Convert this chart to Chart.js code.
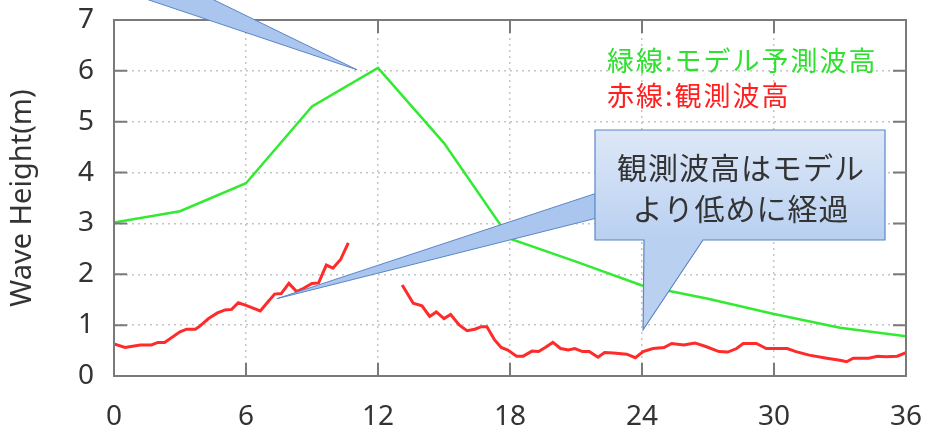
<!DOCTYPE html>
<html>
<head>
<meta charset="utf-8">
<script src="https://cdn.jsdelivr.net/npm/chart.js@4.4.1/dist/chart.umd.min.js"></script>
<style>
  html, body { margin: 0; padding: 0; background: #fff; }
  #wrap { position: relative; width: 929px; height: 430px; }
</style>
</head>
<body>
<div id="wrap"><canvas id="waveChart" width="929" height="430"></canvas></div>
<script>
// Wave height: model forecast (green) vs observed (red)

const modelHours   = [0, 3, 6, 9, 12, 15, 18, 21, 24, 27, 30, 33, 36];
const modelHeights = [3.02, 3.24, 3.79, 5.3, 6.06, 4.58, 2.7, 2.25, 1.78, 1.52, 1.22, 0.95, 0.78];

// observed record has a gap between ~10.7h and ~13h
const obsHours = [
    0, 0.5, 1.2, 1.7, 2.0, 2.3, 3.0, 3.3, 3.7, 3.9, 4.3, 4.7, 5.05, 5.35, 5.65, 6.0,
    6.65, 7.0, 7.3, 7.6, 7.95, 8.3, 8.6, 9.0, 9.3, 9.65, 9.95, 10.3, 10.65,
    12,
    13.1, 13.6, 14.0, 14.35, 14.65, 15.0, 15.3, 15.7, 16.05, 16.4, 16.7, 16.95, 17.3,
    17.6, 17.9, 18.3, 18.6, 19.0, 19.3, 19.6, 19.95, 20.3, 20.65, 20.95, 21.3, 21.6,
    22.0, 22.3, 22.7, 23.3, 23.7, 24.05, 24.5, 25.0, 25.35, 25.9, 26.4, 26.9, 27.5,
    27.9, 28.3, 28.6, 29.2, 29.65, 30.05, 30.6, 31.0, 31.6, 32.4, 33.0, 33.3, 33.6,
    34.3, 34.7, 35.1, 35.6, 36.0
];
const obsHeights = [
    0.63, 0.56, 0.61, 0.61, 0.66, 0.66, 0.87, 0.92, 0.92, 0.98, 1.13, 1.24, 1.30, 1.31, 1.44, 1.39,
    1.28, 1.46, 1.61, 1.62, 1.82, 1.66, 1.72, 1.82, 1.83, 2.18, 2.12, 2.29, 2.62,
    null,
    1.79, 1.43, 1.38, 1.17, 1.26, 1.13, 1.21, 1.0, 0.89, 0.92, 0.97, 0.97, 0.71,
    0.56, 0.51, 0.39, 0.39, 0.49, 0.48, 0.56, 0.66, 0.54, 0.51, 0.54, 0.48, 0.48,
    0.37, 0.46, 0.45, 0.43, 0.36, 0.48, 0.54, 0.56, 0.64, 0.61, 0.65, 0.58, 0.48,
    0.47, 0.54, 0.64, 0.64, 0.54, 0.54, 0.54, 0.48, 0.41, 0.35, 0.31, 0.28, 0.35,
    0.35, 0.39, 0.38, 0.39, 0.46
];

const xTicks = [0, 6, 12, 18, 24, 30, 36];
const yTicks = [0, 1, 2, 3, 4, 5, 6, 7];

const legendLines = [
    { text: '緑線:モデル予測波高', color: '#2fe02f' },
    { text: '赤線:観測波高', color: '#ff1f1f' }
];
const calloutLines = ['観測波高はモデル', 'より低めに経過'];

const GREEN = '#33ea33';
const RED = '#ff2a2a';
const CJK = "'Noto Sans CJK JP', 'Noto Sans', sans-serif";
const NUM = "'Noto Sans', 'DejaVu Sans', sans-serif";

function toPoints(xs, ys) {
    return xs.map((x, i) => ({ x: x, y: ys[i] }));
}

// frame, inner tick marks, text and callouts on top of the plot
const decorPlugin = {
    id: 'decor',
    afterDraw(chart) {
        const ctx = chart.ctx;
        const area = chart.chartArea;
        const xs = chart.scales.x;
        const ys = chart.scales.y;
        const tl = 13;

        ctx.save();
        ctx.strokeStyle = '#7a7a7a';
        ctx.lineWidth = 2;
        ctx.beginPath();
        xTicks.forEach(v => {
            const px = xs.getPixelForValue(v);
            ctx.moveTo(px, area.bottom); ctx.lineTo(px, area.bottom - tl);
            ctx.moveTo(px, area.top); ctx.lineTo(px, area.top + tl);
        });
        yTicks.forEach(v => {
            const py = ys.getPixelForValue(v);
            ctx.moveTo(area.left, py); ctx.lineTo(area.left + tl, py);
            ctx.moveTo(area.right, py); ctx.lineTo(area.right - tl, py);
        });
        ctx.stroke();
        ctx.strokeRect(area.left, area.top, area.right - area.left, area.bottom - area.top);

        // legend text
        ctx.font = '27px ' + CJK;
        ctx.letterSpacing = '2px';
        ctx.textAlign = 'left';
        ctx.textBaseline = 'middle';
        legendLines.forEach((l, i) => {
            ctx.fillStyle = l.color;
            ctx.fillText(l.text, 607, 61 + i * 35);
        });

        const fillCol = '#aac5ee';
        const edgeCol = '#5a86c8';

        // wedge from a callout above the frame, pointing at the model peak
        const tip1x = xs.getPixelForValue(11.05);
        const tip1y = ys.getPixelForValue(6.02);
        ctx.beginPath();
        ctx.moveTo(143, -2);
        ctx.lineTo(tip1x, tip1y);
        ctx.lineTo(210, -2);
        ctx.closePath();
        ctx.fillStyle = fillCol;
        ctx.fill();
        ctx.lineWidth = 1;
        ctx.strokeStyle = edgeCol;
        ctx.stroke();

        // callout box
        const bx = 595, by = 130, bw = 290, bh = 110;
        const tip2x = xs.getPixelForValue(7.4);
        const tip2y = ys.getPixelForValue(1.52);
        ctx.beginPath();
        ctx.moveTo(bx + 2, 193);
        ctx.lineTo(tip2x, tip2y);
        ctx.lineTo(bx + 2, 218);
        ctx.closePath();
        ctx.fillStyle = fillCol;
        ctx.fill();
        ctx.strokeStyle = edgeCol;
        ctx.stroke();

        const tip3x = xs.getPixelForValue(24.05);
        const tip3y = ys.getPixelForValue(0.91);
        const grad = ctx.createLinearGradient(0, by, 0, by + bh);
        grad.addColorStop(0, '#dde8f7');
        grad.addColorStop(1, '#b9d0f1');
        ctx.beginPath();
        ctx.moveTo(bx, by);
        ctx.lineTo(bx + bw, by);
        ctx.lineTo(bx + bw, by + bh);
        ctx.lineTo(703, by + bh);
        ctx.lineTo(tip3x, tip3y);
        ctx.lineTo(644, by + bh);
        ctx.lineTo(bx, by + bh);
        ctx.closePath();
        ctx.fillStyle = grad;
        ctx.fill();
        ctx.lineWidth = 1.2;
        ctx.strokeStyle = edgeCol;
        ctx.stroke();

        ctx.fillStyle = '#333';
        ctx.font = '30px ' + CJK;
        ctx.letterSpacing = '1px';
        ctx.textAlign = 'center';
        calloutLines.forEach((t, i) => {
            ctx.fillText(t, 741, 168 + i * 41);
        });
        ctx.restore();
    }
};

const ctx = document.getElementById('waveChart').getContext('2d');
const chart = new Chart(ctx, {
    type: 'line',
    data: {
        datasets: [
            {
                label: 'model',
                data: toPoints(modelHours, modelHeights),
                borderColor: GREEN,
                borderWidth: 2.5,
                pointRadius: 0,
                tension: 0
            },
            {
                label: 'observed',
                data: toPoints(obsHours, obsHeights),
                borderColor: RED,
                borderWidth: 3,
                pointRadius: 0,
                spanGaps: false,
                tension: 0
            }
        ]
    },
    options: {
        responsive: false,
        animation: false,
        events: [],
        layout: { padding: { top: 20, right: 23, left: 0, bottom: 0 } },
        plugins: {
            legend: { display: false },
            tooltip: { enabled: false }
        },
        scales: {
            x: {
                type: 'linear',
                min: 0,
                max: 36,
                afterFit: s => {
                    s.height = 54;
                    s.paddingLeft = 0;
                    s.paddingRight = 0;
                },
                afterBuildTicks: s => { s.ticks = xTicks.map(v => ({ value: v })); },
                ticks: { color: '#333', font: { family: NUM, size: 28 }, padding: 24, maxRotation: 0 },
                grid: { color: '#c4c4c4', lineWidth: 1.5, drawTicks: false },
                border: { display: false, dash: [2, 4] }
            },
            y: {
                min: 0,
                max: 7,
                afterFit: s => {
                    s.width = 114;
                    s.paddingTop = 0;
                    s.paddingBottom = 0;
                },
                afterBuildTicks: s => { s.ticks = yTicks.map(v => ({ value: v })); },
                ticks: { color: '#333', font: { family: NUM, size: 28 }, padding: 20 },
                grid: { color: '#c4c4c4', lineWidth: 1.5, drawTicks: false },
                border: { display: false, dash: [2, 4] },
                title: {
                    display: true,
                    text: 'Wave Height(m)',
                    color: '#333',
                    font: { family: NUM, size: 29 },
                    padding: { top: 5, bottom: 0 }
                }
            }
        }
    },
    plugins: [decorPlugin]
});
</script>
</body>
</html>
